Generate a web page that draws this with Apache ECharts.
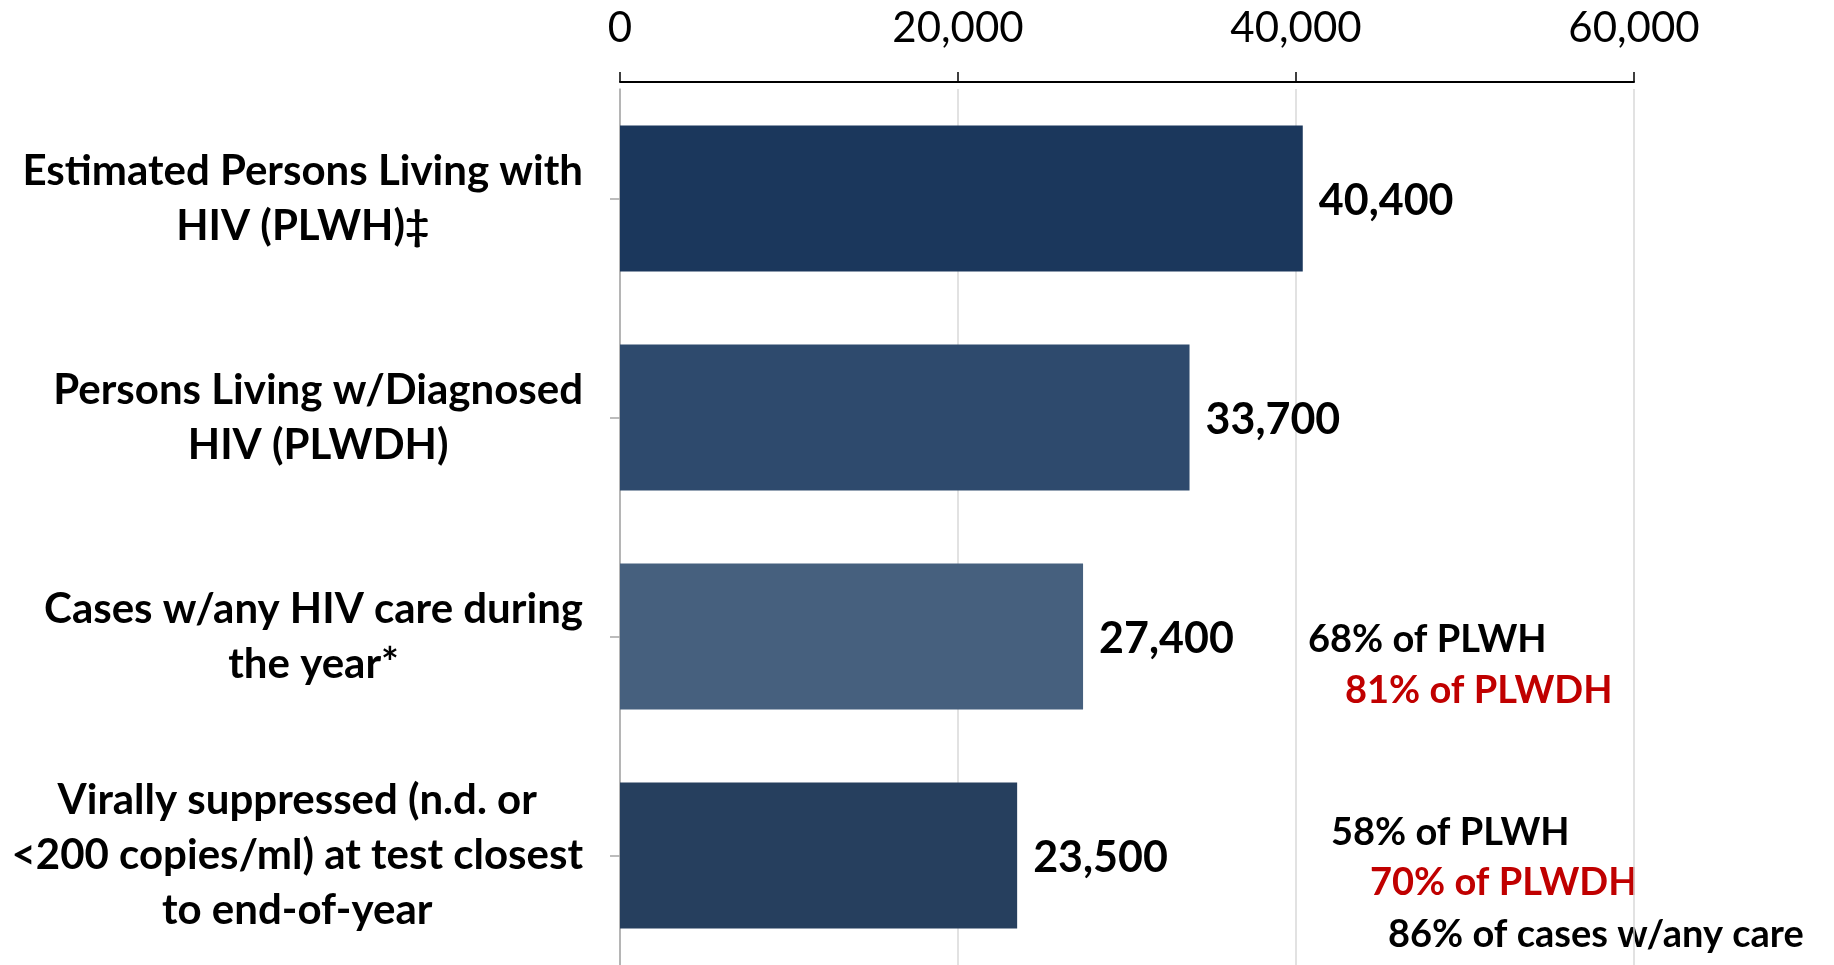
<!DOCTYPE html>
<html>
<head>
<meta charset="utf-8">
<script src="https://cdn.jsdelivr.net/npm/echarts@6/dist/echarts.min.js"></script>
<style>
html,body{margin:0;padding:0;background:#fff;}
#chart{width:1834px;height:965px;}
</style>
</head>
<body>
<div id="chart"></div>
<script>
// ---- data ----
const categories = [
  'Estimated Persons Living with\nHIV (PLWH)\u2021',
  'Persons Living w/Diagnosed\nHIV (PLWDH)',
  'Cases w/any HIV care during\nthe year*',
  'Virally suppressed (n.d. or\n<200 copies/ml) at test closest\nto end-of-year'
];
const values = [40400, 33700, 27400, 23500];
const xTicks = [0, 20000, 40000, 60000];
const annotationTexts = ['68% of PLWH', '81% of PLWDH', '58% of PLWH', '70% of PLWDH', '86% of cases w/any care'];

// ---- style / layout ----
const barColors = ['#1B375C', '#2E4A6D', '#46607E', '#263F5E'];
const FONT = 'Lato';
const annoLayout = [
  {x: 1308, y: 640, c: '#000000'},
  {x: 1345, y: 691, c: '#C00000'},
  {x: 1331, y: 833, c: '#000000'},
  {x: 1370, y: 883, c: '#C00000'},
  {x: 1388, y: 935, c: '#000000'}
];

const fmt = v => v.toLocaleString('en-US');

const chart = echarts.init(document.getElementById('chart'));
chart.setOption({
  animation: false,
  backgroundColor: '#ffffff',
  grid: {left: 620, right: 200, top: 89, bottom: -8, containLabel: false},
  xAxis: {
    type: 'value',
    position: 'top',
    offset: 7,
    min: xTicks[0],
    max: xTicks[xTicks.length - 1],
    interval: xTicks[1] - xTicks[0],
    axisLine: {show: true, lineStyle: {color: '#000000', width: 2}},
    axisTick: {show: true, length: 10, lineStyle: {color: '#000000', width: 1.5}},
    axisLabel: {
      formatter: v => fmt(v),
      fontFamily: FONT, fontSize: 42, color: '#000000', margin: 33
    },
    splitLine: {show: true, lineStyle: {color: '#D9D9D9', width: 1.5}}
  },
  yAxis: {
    type: 'category',
    inverse: true,
    data: categories,
    axisLine: {show: true, lineStyle: {color: '#A6A6A6', width: 1.5}},
    axisTick: {show: true, alignWithLabel: true, length: 10, lineStyle: {color: '#A6A6A6', width: 1.5}},
    axisLabel: {
      margin: 37,
      formatter: v => '{a|' + v + '}',
      rich: {
        a: {align: 'center', fontFamily: FONT, fontWeight: 'bold', fontSize: 42, lineHeight: 55, color: '#000000'}
      }
    }
  },
  series: [{
    type: 'bar',
    barWidth: 146,
    data: values.map((v, i) => ({value: v, itemStyle: {color: barColors[i]}})),
    label: {
      show: true,
      position: 'right',
      distance: 16,
      offset: [0, 3],
      formatter: p => fmt(p.value),
      fontFamily: FONT, fontWeight: 'bold', fontSize: 43, color: '#000000'
    }
  }],
  graphic: annotationTexts.map((t, i) => ({
    type: 'text',
    x: annoLayout[i].x,
    y: annoLayout[i].y,
    style: {
      text: t,
      fill: annoLayout[i].c,
      font: 'bold 38px ' + FONT,
      align: 'left',
      verticalAlign: 'middle'
    }
  }))
});
</script>
</body>
</html>
